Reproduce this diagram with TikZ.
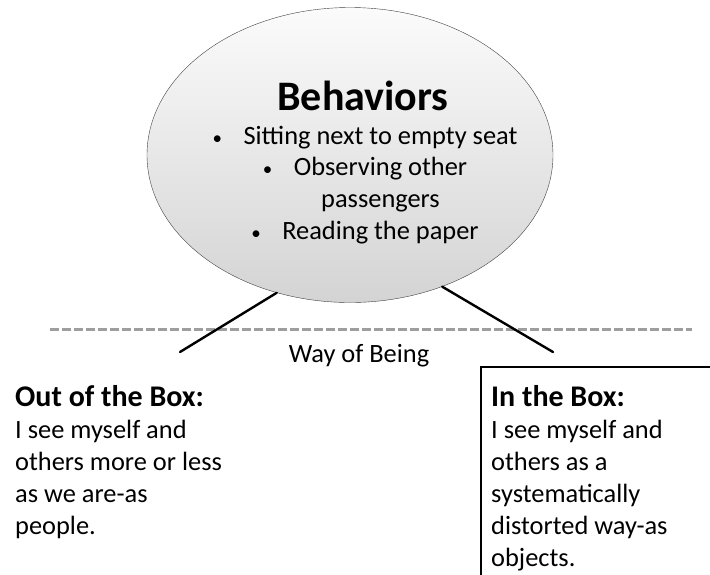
\documentclass[tikz,border=0pt]{standalone}
\usepackage{fontspec}
\setmainfont{Carlito}
\usetikzlibrary{positioning,calc,shapes.geometric}

% body text size, box headings and bullet box for the list in the bubble
\newcommand{\bodysize}{\fontsize{26.4}{31.6}\selectfont}
\newcommand{\boxhead}[1]{{\fontsize{30}{32.5}\selectfont\bfseries #1}}
\newcommand{\bul}{\makebox[31pt][l]{\fontsize{19}{19}\selectfont\textbullet}}

\begin{document}
\begin{tikzpicture}[
    x=1pt, y=-1pt,
    font=\bodysize,
    bubble/.style={ellipse, draw=black!75, thin, top color=gray!3, bottom color=gray!34, minimum width=406pt, minimum height=295pt},
    stem/.style={line width=2.4pt, line cap=round},
    divider/.style={draw=black!38, line width=3pt, dash pattern=on 9pt off 3pt},
    blurb/.style={align=left, anchor=base west, inner sep=0pt, font=\fontsize{26.4}{32}\selectfont}
  ]
    \useasboundingbox (0,0) rectangle (710,574);
    \clip (0,0) rectangle (710,574);
    \node[bubble] (beh) at (350,155) {};
    % multi-line nodes sit on the baseline of their last line
    \node[anchor=base, inner sep=0pt, font=\fontsize{42}{42}\selectfont\bfseries] (behtitle) at (363,110) {Behaviors};
    \node[align=center, anchor=base, inner sep=0pt] (behlist) at (365,239)
      {\bul Sitting next to empty seat\\
       \bul Observing other\\
       \hspace{31pt}passengers\\
       \bul Reading the paper};
    \coordinate (divl) at (50,329);
    \coordinate (divr) at (692,329);
    \draw[divider] (divl) -- (divr);
    \coordinate (outend) at (180,352);
    \coordinate (inend) at (553,352);
    \draw[stem] (beh.242) -- (outend);
    \draw[stem] (beh.305) -- (inend);
    \node[anchor=base] (way) at (359,362) {Way of Being};
    \node[blurb] (outbox) at (15,534)
      {\boxhead{Out of the Box:}\\I see myself and\\others more or less\\as we are-as\\people.};
    \draw[line width=2.5pt] (481,620) coordinate (inbl) |- (740,367) coordinate (intr);
    \node[blurb] (inbox) at (491,566)
      {\boxhead{In the Box:}\\I see myself and\\others as a\\systematically\\distorted way-as\\objects.};
  \end{tikzpicture}
\end{document}
